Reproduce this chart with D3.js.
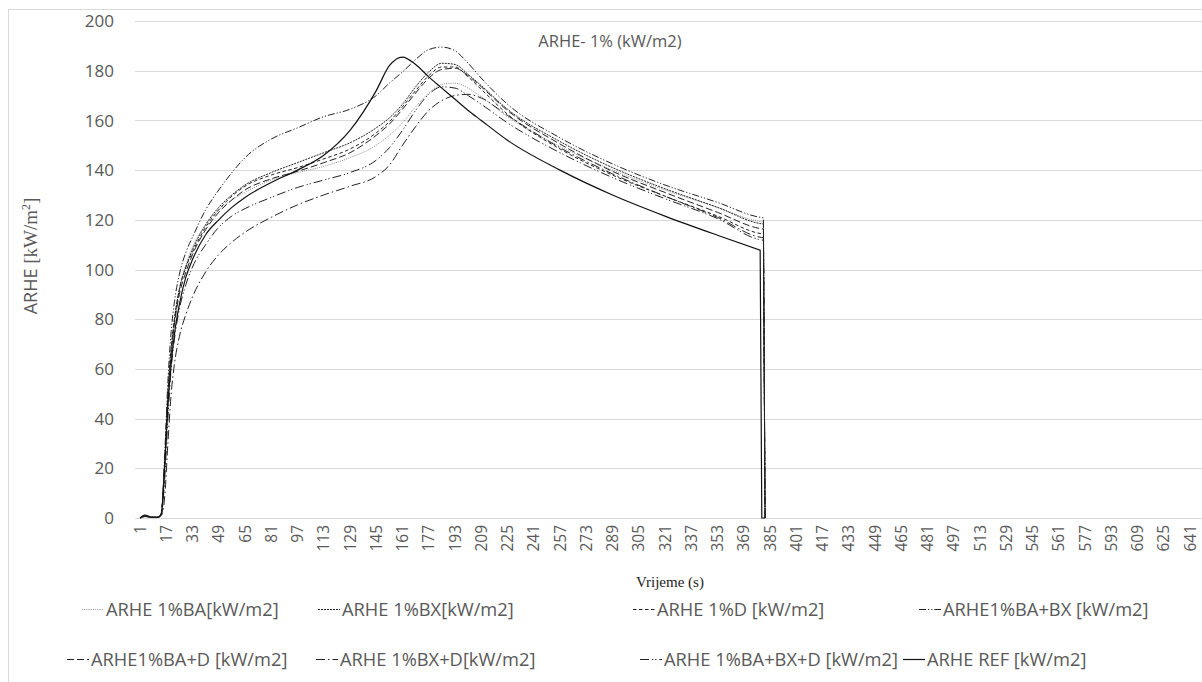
<!DOCTYPE html>
<html><head><meta charset="utf-8">
<script src="https://cdn.jsdelivr.net/npm/d3@7/dist/d3.min.js"></script>
<style>body{margin:0;background:#fff}svg{display:block}</style>
</head><body>
<svg id="c" width="1202" height="682"></svg>
<script>
const time = [1, 4, 8, 12, 14, 16, 18, 20, 22, 25, 29, 33, 41, 49, 57, 65, 81, 97, 113, 129, 145, 153, 161, 169, 177, 185, 193, 201, 209, 225, 257, 289, 321, 353, 379, 380, 381, 382];

const serBA     = [0, 0.8, 0.3, 0.3, 2, 20, 48, 66, 79, 92, 102, 109, 118, 124, 128, 131, 136, 139, 141.5, 145, 150, 154, 159, 165.5, 171, 174.5, 175, 173, 169.5, 161.5, 149.5, 140, 132, 125, 119.3, 119.2, 119.1, 0];
const serBX     = [0, 1, 0.3, 0.3, 2, 22, 50, 68, 80, 92, 101, 108, 118, 125, 130, 134, 139, 143, 147, 151, 157, 161, 166.5, 173.5, 179.5, 183, 182.5, 178.5, 174, 164.5, 151.5, 141, 132.5, 125, 118.5, 118.4, 118.3, 0];
const serD      = [0, 0.8, 0.3, 0.3, 2, 22, 50, 68, 80, 92, 101, 107, 117, 124, 129.5, 133.5, 138, 141, 144.5, 148.5, 155, 159.5, 165.5, 172, 178, 181.5, 181.5, 177.5, 172.5, 162.5, 148.5, 138, 129.5, 121.5, 114.5, 114.4, 114.3, 0];
const serBABX   = [0, 0.8, 0.3, 0.3, 2, 25, 55, 75, 87, 98, 107, 113, 124, 132, 139, 145, 152.5, 157, 161.5, 164.5, 170, 175, 179.5, 184.5, 188.5, 189.5, 188, 183, 177, 166.5, 153, 142.5, 134, 127, 121, 120.9, 120.8, 0];
const serBAD    = [0, 0.8, 0.3, 0.3, 2, 20, 48, 66, 78, 90, 99, 106, 116, 123, 128, 132, 136.5, 139.5, 143, 147, 154, 158.5, 164.5, 171, 177, 180.5, 181, 178, 173.5, 164, 150.5, 139.5, 131, 123, 116.5, 116.4, 116.3, 0];
const serBXD    = [0, 0.6, 0.3, 0.3, 1, 8, 30, 50, 62, 73, 82, 89, 99, 106, 111, 115, 121, 126, 130, 133.5, 137.5, 142, 150, 157.5, 164, 168, 170, 170.5, 169, 162, 149, 138.5, 129.5, 121, 113, 112.9, 112.8, 0];
const serBABXD  = [0, 0.6, 0.3, 0.3, 1.5, 15, 40, 60, 72, 84, 94, 101, 110, 117, 121.5, 124.5, 129, 133, 136, 139, 144, 149, 156, 164, 170.5, 173.5, 173, 170, 166.5, 159, 147, 137, 128.5, 120.5, 112, 111.9, 111.8, 0];
const serREF    = [0, 1.2, 0.3, 0.3, 1.5, 20, 45, 62, 74, 86, 97, 104, 114, 120, 125, 129, 135, 140, 146, 156, 172, 182, 185.5, 182.5, 177.5, 173, 168.5, 164, 160, 152, 140, 130, 121.5, 113.8, 107.8, 0, 0, 0];

const seriesNames = ["ARHE 1%BA[kW/m2]", "ARHE 1%BX[kW/m2]", "ARHE 1%D [kW/m2]", "ARHE1%BA+BX [kW/m2]",
                     "ARHE1%BA+D [kW/m2]", "ARHE 1%BX+D[kW/m2]", "ARHE 1%BA+BX+D [kW/m2]", "ARHE REF [kW/m2]"];
const seriesValues = [serBA, serBX, serD, serBABX, serBAD, serBXD, serBABXD, serREF];
const xTickLabels = d3.range(1, 642, 16);
const yTicks = [0, 20, 40, 60, 80, 100, 120, 140, 160, 180, 200];

const styles = [
  {stroke: "#8c8c8c", dash: "1,1.2", w: 1},
  {stroke: "#222", dash: "2,1", w: 1},
  {stroke: "#222", dash: "3.5,2.5", w: 1},
  {stroke: "#222", dash: "7,2,1.2,2,1.2,2", w: 1},
  {stroke: "#222", dash: "7,3", w: 1},
  {stroke: "#222", dash: "9,3,1.5,3", w: 1},
  {stroke: "#222", dash: "9,3,1.2,2,1.2,3", w: 1},
  {stroke: "#111", dash: null, w: 1.2}
];
const legendPos = [
  {x: 106, y: 609}, {x: 342, y: 609}, {x: 657, y: 609}, {x: 943, y: 609},
  {x: 91, y: 659},  {x: 340, y: 659}, {x: 664, y: 659}, {x: 927, y: 659}
];

const svg = d3.select("#c");
const font = "'Open Sans', sans-serif";
const serif = "'Liberation Serif', serif";
const grey = "#595959";

svg.append("rect").attr("x", 8.5).attr("y", 9.5).attr("width", 1200).attr("height", 680)
  .attr("fill", "none").attr("stroke", "#d9d9d9");

const x = d3.scaleLinear().domain([1, 641]).range([140, 1190]);
const y = d3.scaleLinear().domain([0, 200]).range([518, 21]);

// gridlines
svg.append("g").selectAll("line").data(yTicks).join("line")
  .attr("x1", 135).attr("x2", 1202)
  .attr("y1", d => Math.round(y(d)) + 0.5).attr("y2", d => Math.round(y(d)) + 0.5)
  .attr("stroke", "#d9d9d9").attr("stroke-width", 1);

// y tick labels
svg.append("g").selectAll("text").data(yTicks).join("text")
  .attr("x", 114).attr("y", d => y(d)).attr("dy", "0.36em")
  .attr("text-anchor", "end").attr("font-family", font).attr("font-size", 17)
  .attr("fill", grey).text(d => d);

// x tick labels
svg.append("g").selectAll("text").data(xTickLabels).join("text")
  .attr("transform", d => `translate(${x(d)},525) rotate(-90)`)
  .attr("dy", "0.36em").attr("text-anchor", "end")
  .attr("font-family", font).attr("font-size", 15.5).attr("fill", grey).text(d => d);

// lines: smooth body, straight drop at the end
const smooth = d3.line().x(d => x(d.t)).y(d => y(d.v)).curve(d3.curveMonotoneX);
const straight = d3.line().x(d => x(d.t)).y(d => y(d.v));
seriesValues.forEach((vals, i) => {
  const pts = time.map((t, k) => ({t, v: vals[k]}));
  let last = 0;
  pts.forEach((p, k) => { if (p.v > 0) last = k; });
  const body = pts.slice(0, last + 1);
  const tail = pts.slice(last);
  const d = smooth(body) + straight(tail).replace(/^M/, "L");
  const p = svg.append("path").attr("d", d)
    .attr("fill", "none").attr("stroke", styles[i].stroke).attr("stroke-width", styles[i].w);
  if (styles[i].dash) p.attr("stroke-dasharray", styles[i].dash);
});

// title
svg.append("text").attr("x", 610).attr("y", 47).attr("text-anchor", "middle")
  .attr("font-family", font).attr("font-size", 16.5).attr("fill", grey).text("ARHE- 1% (kW/m2)");

// y title
const yt = svg.append("text").attr("transform", "translate(37,256) rotate(-90)")
  .attr("text-anchor", "middle").attr("fill", grey).attr("font-size", 18);
yt.append("tspan").attr("font-family", font).text("ARHE ");
yt.append("tspan").attr("font-family", serif).attr("font-size", 19).text(" [kW/m");
yt.append("tspan").attr("font-family", serif).attr("font-size", 12).attr("dy", -7).text("2");
yt.append("tspan").attr("font-family", serif).attr("font-size", 19).attr("dy", 7).text("]");

// x title
svg.append("text").attr("x", 670).attr("y", 587).attr("text-anchor", "middle")
  .attr("font-family", serif).attr("font-size", 15).attr("fill", "#222")
  .text("Vrijeme (s)");

// legend
const lg = svg.append("g");
seriesNames.forEach((name, i) => {
  const p = legendPos[i];
  const l = lg.append("line").attr("x1", p.x - 24).attr("x2", p.x - 2)
    .attr("y1", p.y + 0.5).attr("y2", p.y + 0.5)
    .attr("stroke", styles[i].stroke).attr("stroke-width", styles[i].w);
  if (styles[i].dash) l.attr("stroke-dasharray", styles[i].dash);
  lg.append("text").attr("x", p.x).attr("y", p.y).attr("dy", "0.36em")
    .attr("font-family", font).attr("font-size", 18.3).attr("fill", grey).text(name);
});
</script>
</body></html>
